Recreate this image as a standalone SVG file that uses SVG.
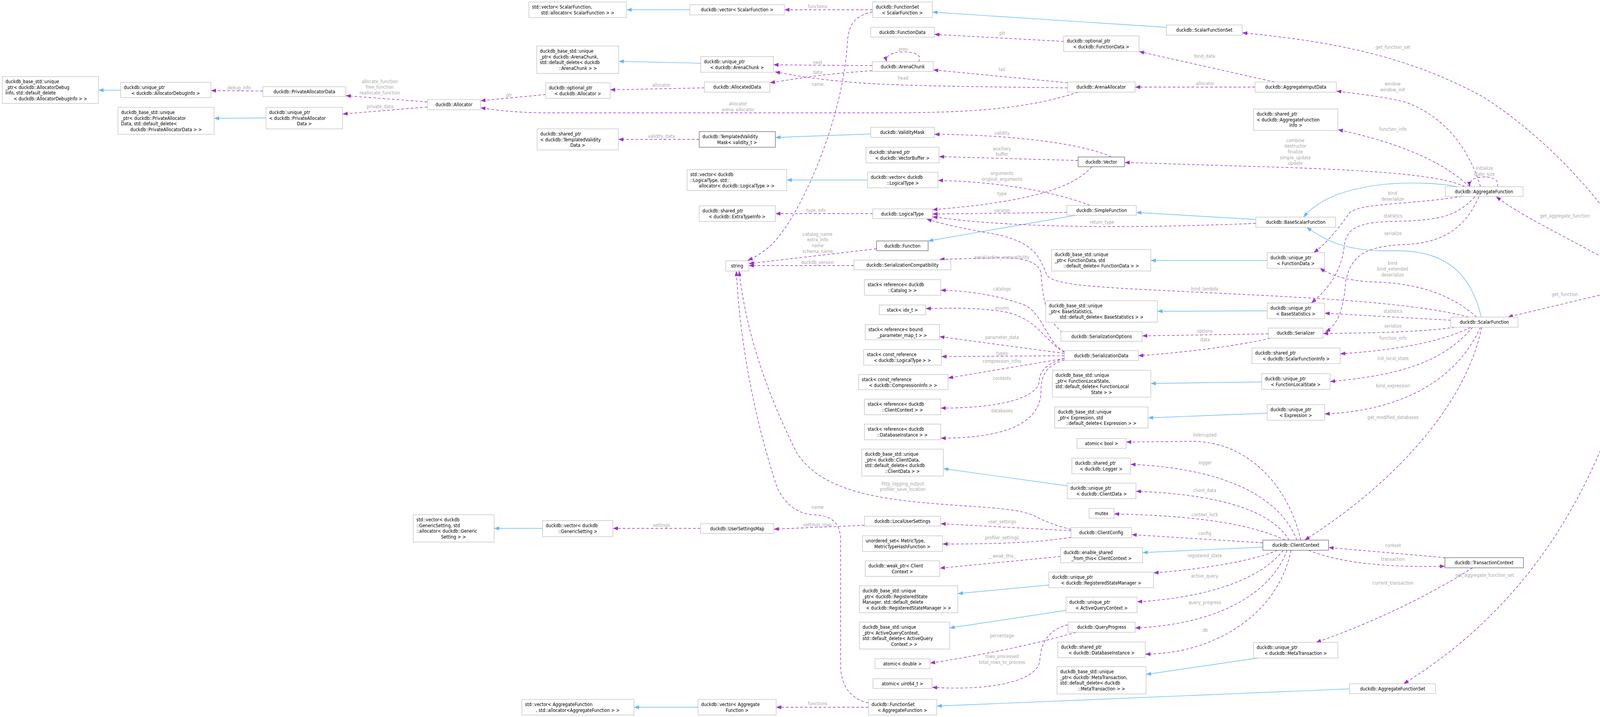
<svg xmlns="http://www.w3.org/2000/svg" width="4345" height="1836" viewBox="0 0 4345 1836">
<style>
rect{fill:#fff;stroke:#bfbfbf;stroke-width:1.3}
.d rect{stroke:#666}
.s rect{fill:#999;stroke:#666}
text{font-family:"DejaVu Sans Condensed","DejaVu Sans",sans-serif;font-stretch:condensed;font-size:12px;fill:#000}
.m{text-anchor:middle}
.l text{fill:#a8a8a8;text-anchor:middle}
.p{fill:none;stroke:#9a32cd;stroke-width:1.4;stroke-dasharray:7,5;marker-end:url(#ap)}
.b{fill:none;stroke:#63b8ff;stroke-width:1.4;marker-end:url(#ab)}
</style>
<defs>
<marker id="ap" markerUnits="userSpaceOnUse" markerWidth="14" markerHeight="10" refX="13" refY="5" orient="auto"><path d="M0,0 L13,5 L0,10 z" fill="#9a32cd"/></marker>
<marker id="ab" markerUnits="userSpaceOnUse" markerWidth="14" markerHeight="10" refX="13" refY="5" orient="auto"><path d="M0,0 L13,5 L0,10 z" fill="#63b8ff"/></marker>
</defs>
<rect x="0" y="0" width="4345" height="1836" style="fill:#fff;stroke:none"/>
<g id="edges">
<path class="b" d="M309,231 L252,231"/>
<path class="b" d="M681,302 L548,303"/>
<path class="b" d="M1766,25 L1604,25"/>
<path class="b" d="M1794,162 L1584,157"/>
<path class="b" d="M2229,343 L1985,352"/>
<path class="b" d="M2221,461 L2014,461"/>
<path class="b" d="M2986,70 L2387,31"/>
<path class="b" d="M2755,551 L2376,617"/>
<path class="b" d="M3215,562 L2909,544"/>
<path class="b" d="M3731,478 C3650,462 3420,455 3337,556"/>
<path class="b" d="M3792,812 C3770,720 3720,640 3570,642 C3450,645 3400,620 3345,582"/>
<path class="b" d="M3244,667 L2946,667"/>
<path class="b" d="M3244,796 L2963,797"/>
<path class="b" d="M3230,978 L2946,982"/>
<path class="b" d="M3244,1058 L2939,1070"/>
<path class="b" d="M2732,1244 L2415,1200"/>
<path class="b" d="M3233,1401 L2925,1415"/>
<path class="b" d="M2685,1498 L2452,1520"/>
<path class="b" d="M2729,1563 L2431,1608"/>
<path class="b" d="M3220,1685 L2934,1727"/>
<path class="b" d="M1389,1353 L1265,1353"/>
<path class="b" d="M1787,1811 L1623,1811"/>
<path class="b" d="M3455,1764 L2398,1808"/>

<path class="p" d="M673,233 L540,232"/>
<path class="p" d="M1094,261 L885,245"/>
<path class="p" d="M1094,274 L877,292"/>
<path class="p" d="M1397,242 L1230,258"/>
<path class="p" d="M1803,225 L1562,230"/>
<path class="p" d="M2760,236 C2600,290 2400,289 2200,289 L1400,289 C1300,288 1260,280 1230,276"/>
<path class="p" d="M2234,25 L2008,25"/>
<path class="p" d="M2234,30 C2190,40 2175,60 2170,100 C2160,300 2060,520 1998,600 C1970,640 1930,660 1914,667"/>
<path class="p" d="M2351,158 C2365,140 2335,132 2312,133 C2285,133 2265,143 2270,158"/>
<path class="p" d="M2233,168 L1980,166"/>
<path class="p" d="M2233,181 C2100,190 2050,200 1971,212"/>
<path class="p" d="M2733,225 C2500,222 2300,220 2200,212 C2100,205 2040,194 1984,184"/>
<path class="p" d="M2733,212 L2389,179"/>
<path class="p" d="M3263,210 L2916,132"/>
<path class="p" d="M3213,223 L2906,223"/>
<path class="p" d="M2723,106 L2392,88"/>
<path class="p" d="M4213,714 C4160,580 4000,380 3800,250 C3600,140 3400,105 3180,84"/>
<path class="p" d="M3790,478 C3760,380 3700,300 3600,262 C3530,245 3470,240 3421,233"/>
<path class="p" d="M3762,478 C3700,420 3600,370 3425,332"/>
<path class="p" d="M3750,478 C3700,455 3600,440 3300,429 C3100,423 2950,418 2879,416"/>
<path class="p" d="M3833,478 C3840,460 3820,453 3800,453 C3775,453 3760,462 3763,478"/>
<path class="p" d="M3743,503 C3600,525 3480,520 3455,545 C3430,580 3400,620 3363,647"/>
<path class="p" d="M3776,504 C3730,550 3700,565 3560,567 C3450,570 3445,600 3440,640 C3430,700 3400,740 3357,776"/>
<path class="p" d="M3786,504 C3760,560 3720,620 3600,626 C3500,630 3460,650 3445,720 C3440,800 3420,835 3393,850"/>
<path class="p" d="M4195,714 C4100,650 3900,560 3830,503"/>
<path class="p" d="M4165,739 L3860,812"/>
<path class="p" d="M4218,739 C4150,1100 4000,1500 3593,1751"/>
<path class="p" d="M3780,812 C3700,740 3600,725 3520,722 C3440,720 3400,700 3379,687"/>
<path class="p" d="M3714,820 L3391,802"/>
<path class="p" d="M3724,838 C3650,850 3500,853 3387,854"/>
<path class="p" d="M3765,838 C3700,870 3600,895 3431,906"/>
<path class="p" d="M3770,838 C3700,920 3600,960 3405,977"/>
<path class="p" d="M3790,838 C3740,950 3620,1050 3391,1060"/>
<path class="p" d="M3793,838 C3750,1050 3550,1250 3340,1383"/>
<path class="p" d="M3760,812 C3600,770 3300,760 3000,745 C2800,735 2700,730 2680,705 C2660,650 2640,620 2550,600 C2460,585 2400,570 2372,561"/>
<path class="p" d="M2845,402 C2780,370 2600,345 2392,344"/>
<path class="p" d="M2760,411 L2404,401"/>
<path class="p" d="M2795,427 C2740,490 2600,520 2387,537"/>
<path class="p" d="M2790,526 C2700,490 2550,465 2401,462"/>
<path class="p" d="M2731,544 L2387,548"/>
<path class="p" d="M3215,572 C2900,585 2600,585 2387,555"/>
<path class="p" d="M2234,547 L1985,547"/>
<path class="p" d="M2244,637 L1917,675"/>
<path class="p" d="M2186,680 L1917,680"/>
<path class="p" d="M2720,851 C2680,820 2670,770 2665,700 C2660,670 2620,660 2560,660 L2405,664"/>
<path class="p" d="M2725,900 C2680,880 2670,800 2620,780 C2550,755 2480,745 2408,743"/>
<path class="p" d="M2725,902 C2680,880 2660,820 2580,800 C2500,785 2420,790 2370,790"/>
<path class="p" d="M2725,905 L2405,862"/>
<path class="p" d="M2725,911 L2410,913"/>
<path class="p" d="M2725,918 L2427,968"/>
<path class="p" d="M2725,918 C2680,930 2660,950 2660,980 C2650,1020 2560,1045 2408,1045"/>
<path class="p" d="M2725,922 C2680,935 2665,960 2665,1000 C2665,1090 2560,1122 2408,1122"/>
<path class="p" d="M3247,855 L2924,860"/>
<path class="p" d="M3252,866 C3150,890 3000,905 2914,911"/>
<path class="p" d="M3330,1383 C3300,1250 3200,1130 3050,1130 L2883,1132"/>
<path class="p" d="M3320,1383 C3280,1280 3150,1200 2894,1189"/>
<path class="p" d="M3300,1383 C3250,1300 3100,1265 2908,1258"/>
<path class="p" d="M3290,1383 C3200,1340 3050,1320 2852,1316"/>
<path class="p" d="M3233,1390 L2897,1369"/>
<path class="p" d="M3270,1409 C3200,1440 3050,1460 2953,1467"/>
<path class="p" d="M3285,1409 C3230,1480 3100,1530 2911,1541"/>
<path class="p" d="M3295,1409 C3250,1530 3100,1600 2906,1608"/>
<path class="p" d="M3305,1409 C3270,1580 3100,1675 2932,1675"/>
<path class="p" d="M3350,1409 C3450,1450 3600,1452 3699,1450"/>
<path class="p" d="M3700,1428 L3401,1402"/>
<path class="p" d="M3770,1454 C3650,1530 3500,1600 3369,1645"/>
<path class="p" d="M2742,1359 L2408,1341"/>
<path class="p" d="M2742,1376 C2650,1390 2550,1393 2413,1393"/>
<path class="p" d="M2742,1356 C2700,1345 2675,1335 2650,1322 C2600,1295 2450,1300 2300,1280 C2150,1260 2080,1220 2040,1160 C1960,1000 1910,850 1892,694"/>
<path class="p" d="M2223,1800 C2180,1790 2152,1760 2152,1700 L2152,1380 C2150,1330 2120,1320 2080,1318 C2040,1315 2010,1290 1990,1250 C1940,1100 1895,900 1885,694"/>
<path class="p" d="M2715,1425 L2406,1455"/>
<path class="p" d="M2213,1345 L1981,1355"/>
<path class="p" d="M1793,1353 L1569,1353"/>
<path class="p" d="M2223,1811 L1987,1811"/>
<path class="p" d="M2755,1619 C2650,1650 2500,1680 2381,1698"/>
<path class="p" d="M2734,1600 C2690,1610 2665,1640 2662,1690 C2660,1740 2550,1770 2386,1760"/>
<path class="p" d="M1790,357 L1583,357"/>
<g class="l">
<text x="612" y="229">debug_info</text>
<text x="972" y="213">allocate_function</text><text x="972" y="227">free_function</text><text x="972" y="242">reallocate_function</text>
<text x="973" y="277">private_data</text>
<text x="1303" y="248">ptr</text>
<text x="1693" y="222">allocator</text>
<text x="1889" y="270">allocator</text><text x="1889" y="285">arena_allocator</text>
<text x="2093" y="21">functions</text>
<text x="2093" y="164">next</text>
<text x="2093" y="189">data</text>
<text x="2093" y="220">name</text>
<text x="2312" y="130">prev</text>
<text x="2565" y="182">tail</text>
<text x="2312" y="204">head</text>
<text x="2566" y="89">ptr</text>
<text x="3084" y="148">bind_data</text>
<text x="3085" y="218">allocator</text>
<text x="1693" y="353">validity_data</text>
<text x="3566" y="125">get_function_set</text>
<text x="3565" y="219">window</text><text x="3565" y="234">window_init</text>
<text x="3566" y="335">function_info</text>
<text x="3316" y="364">combine</text><text x="3316" y="378">destructor</text><text x="3316" y="393">finalize</text><text x="3316" y="408">simple_update</text><text x="3316" y="422">update</text>
<text x="3800" y="435">initialize</text><text x="3800" y="450">state_size</text>
<text x="3565" y="499">bind</text><text x="3565" y="514">deserialize</text>
<text x="3566" y="557">statistics</text>
<text x="3566" y="602">serialize</text>
<text x="4006" y="557">get_aggregate_function</text>
<text x="4006" y="758">get_function</text>
<text x="3565" y="678">bind</text><text x="3565" y="693">bind_extended</text><text x="3565" y="708">deserialize</text>
<text x="3566" y="801">statistics</text>
<text x="3566" y="839">serialize</text>
<text x="3566" y="870">function_info</text>
<text x="3566" y="922">init_local_state</text>
<text x="3566" y="992">bind_expression</text>
<text x="3566" y="1073">get_modified_databases</text>
<text x="3084" y="744">bind_lambda</text>
<text x="2565" y="345">validity</text>
<text x="2565" y="385">auxiliary</text><text x="2565" y="399">buffer</text>
<text x="2565" y="448">arguments</text><text x="2565" y="463">original_arguments</text>
<text x="2565" y="500">type</text>
<text x="2565" y="543">varargs</text>
<text x="2821" y="573">return_type</text>
<text x="2089" y="543">type_info</text>
<text x="2093" y="604">catalog_name</text><text x="2093" y="618">extra_info</text><text x="2093" y="633">name</text><text x="2093" y="648">schema_name</text>
<text x="2093" y="676">duckdb_version</text>
<text x="2565" y="663">serialization_compatibility</text>
<text x="2565" y="744">catalogs</text>
<text x="2565" y="793">enums</text>
<text x="2565" y="868">parameter_data</text>
<text x="2565" y="909">types</text>
<text x="2565" y="929">compression_infos</text>
<text x="2565" y="973">contexts</text>
<text x="2565" y="1056">databases</text>
<text x="3084" y="852">options</text>
<text x="3085" y="874">data</text>
<text x="3084" y="1118">interrupted</text>
<text x="3085" y="1189">logger</text>
<text x="3084" y="1260">client_data</text>
<text x="3084" y="1322">context_lock</text>
<text x="3084" y="1370">config</text>
<text x="3084" y="1427">registered_state</text>
<text x="3084" y="1479">active_query</text>
<text x="3084" y="1547">query_progress</text>
<text x="3085" y="1618">db</text>
<text x="3566" y="1436">transaction</text>
<text x="3566" y="1401">context</text>
<text x="3566" y="1497">current_transaction</text>
<text x="3801" y="1477">get_aggregate_function_set</text>
<text x="2565" y="1340">user_settings</text>
<text x="2565" y="1381">profiler_settings</text>
<text x="2311" y="1243">http_logging_output</text><text x="2311" y="1257">profiler_save_location</text>
<text x="2093" y="1303">name</text>
<text x="2565" y="1428">__weak_this_</text>
<text x="2093" y="1348">settings_map</text>
<text x="1693" y="1349">settings</text>
<text x="2093" y="1806">functions</text>
<text x="2565" y="1632">percentage</text>
<text x="2565" y="1685">rows_processed</text><text x="2565" y="1700">total_rows_to_process</text>
</g>
</g>

<g id="n1"><rect x="6" y="196" width="246" height="69"/><text><tspan x="14" y="213">duckdb_base_std::unique</tspan><tspan x="14" y="227.5">_ptr&lt; duckdb::AllocatorDebug</tspan><tspan x="14" y="242">Info, std::default_delete</tspan><tspan class="m" x="129" y="256.5">&lt; duckdb::AllocatorDebugInfo &gt; &gt;</tspan></text></g>
<g id="n2"><rect x="309" y="211" width="231" height="39"/><text><tspan x="317" y="228">duckdb::unique_ptr</tspan><tspan class="m" x="424" y="242.5">&lt; duckdb::AllocatorDebugInfo &gt;</tspan></text></g>
<g id="n3"><rect x="673" y="222" width="212" height="25"/><text class="m" x="779" y="239">duckdb::PrivateAllocatorData</text></g>
<g id="n4"><rect x="302" y="275" width="246" height="69"/><text><tspan x="310" y="292">duckdb_base_std::unique</tspan><tspan x="310" y="306.5">_ptr&lt; duckdb::PrivateAllocator</tspan><tspan x="310" y="321">Data, std::default_delete&lt;</tspan><tspan class="m" x="425" y="335.5">duckdb::PrivateAllocatorData &gt; &gt;</tspan></text></g>
<g id="n5"><rect x="681" y="275" width="196" height="55"/><text><tspan x="689" y="292">duckdb::unique_ptr</tspan><tspan x="689" y="306.5">&lt; duckdb::PrivateAllocator</tspan><tspan class="m" x="779" y="321">Data &gt;</tspan></text></g>
<g id="n6"><rect x="1094" y="255" width="136" height="26"/><text class="m" x="1162" y="272">duckdb::Allocator</text></g>
<g id="n7"><rect x="1354" y="5" width="250" height="40"/><text><tspan x="1362" y="22">std::vector&lt; ScalarFunction,</tspan><tspan class="m" x="1479" y="36.5">std::allocator&lt; ScalarFunction &gt; &gt;</tspan></text></g>
<g id="n8"><rect x="1766" y="12" width="242" height="26"/><text class="m" x="1887" y="29">duckdb::vector&lt; ScalarFunction &gt;</text></g>
<g id="n9"><rect x="1374" y="118" width="210" height="70"/><text><tspan x="1382" y="135">duckdb_base_std::unique</tspan><tspan x="1382" y="149.5">_ptr&lt; duckdb::ArenaChunk,</tspan><tspan x="1382" y="164">std::default_delete&lt; duckdb</tspan><tspan class="m" x="1479" y="178.5">::ArenaChunk &gt; &gt;</tspan></text></g>
<g id="n10"><rect x="1794" y="145" width="186" height="40"/><text><tspan x="1802" y="162">duckdb::unique_ptr</tspan><tspan class="m" x="1887" y="176.5">&lt; duckdb::ArenaChunk &gt;</tspan></text></g>
<g id="n11"><rect x="1397" y="212" width="165" height="40"/><text><tspan x="1405" y="229">duckdb::optional_ptr</tspan><tspan class="m" x="1479" y="243.5">&lt; duckdb::Allocator &gt;</tspan></text></g>
<g id="n12"><rect x="1803" y="210" width="168" height="26"/><text class="m" x="1887" y="227">duckdb::AllocatedData</text></g>
<g id="n13"><rect x="1375" y="330" width="208" height="54"/><text><tspan x="1383" y="347">duckdb::shared_ptr</tspan><tspan x="1383" y="361.5">&lt; duckdb::TemplatedValidity</tspan><tspan class="m" x="1479" y="376">Data &gt;</tspan></text></g>
<g id="n14" class="d"><rect x="1790" y="337" width="195" height="40"/><text><tspan x="1798" y="354">duckdb::TemplatedValidity</tspan><tspan class="m" x="1887" y="368.5">Mask&lt; validity_t &gt;</tspan></text></g>
<g id="n15"><rect x="1759" y="434" width="255" height="54"/><text><tspan x="1767" y="451">std::vector&lt; duckdb</tspan><tspan x="1767" y="465.5">::LogicalType, std::</tspan><tspan class="m" x="1886" y="480">allocator&lt; duckdb::LogicalType &gt; &gt;</tspan></text></g>
<g id="n16"><rect x="1790" y="527" width="195" height="40"/><text><tspan x="1798" y="544">duckdb::shared_ptr</tspan><tspan class="m" x="1887" y="558.5">&lt; duckdb::ExtraTypeInfo &gt;</tspan></text></g>
<g id="n17"><rect x="1858" y="668" width="59" height="26"/><text class="m" x="1887" y="685">string</text></g>
<g id="n18"><rect x="2234" y="5" width="153" height="40"/><text><tspan x="2242" y="22">duckdb::FunctionSet</tspan><tspan class="m" x="2310" y="36.5">&lt; ScalarFunction &gt;</tspan></text></g>
<g id="n19"><rect x="2229" y="70" width="163" height="25"/><text class="m" x="2310" y="87">duckdb::FunctionData</text></g>
<g id="n20"><rect x="2233" y="158" width="156" height="25"/><text class="m" x="2311" y="175">duckdb::ArenaChunk</text></g>
<g id="n21"><rect x="2229" y="326" width="163" height="26"/><text class="m" x="2310" y="343">duckdb::ValidityMask</text></g>
<g id="n22"><rect x="2217" y="377" width="187" height="40"/><text><tspan x="2225" y="394">duckdb::shared_ptr</tspan><tspan class="m" x="2310" y="408.5">&lt; duckdb::VectorBuffer &gt;</tspan></text></g>
<g id="n23"><rect x="2221" y="441" width="180" height="40"/><text><tspan x="2229" y="458">duckdb::vector&lt; duckdb</tspan><tspan class="m" x="2311" y="472.5">::LogicalType &gt;</tspan></text></g>
<g id="n24"><rect x="2234" y="535" width="153" height="25"/><text class="m" x="2310" y="552">duckdb::LogicalType</text></g>
<g id="n25" class="d"><rect x="2244" y="617" width="132" height="25"/><text class="m" x="2310" y="634">duckdb::Function</text></g>
<g id="n26"><rect x="2186" y="666" width="248" height="25"/><text class="m" x="2310" y="683">duckdb::SerializationCompatibility</text></g>
<g id="n27"><rect x="2213" y="716" width="195" height="40"/><text><tspan x="2221" y="733">stack&lt; reference&lt; duckdb</tspan><tspan class="m" x="2310" y="747.5">::Catalog &gt; &gt;</tspan></text></g>
<g id="n28"><rect x="2251" y="781" width="119" height="25"/><text class="m" x="2310" y="798">stack&lt; idx_t &gt;</text></g>
<g id="n29"><rect x="2215" y="831" width="190" height="39"/><text><tspan x="2223" y="848">stack&lt; reference&lt; bound</tspan><tspan class="m" x="2310" y="862.5">_parameter_map_t &gt; &gt;</tspan></text></g>
<g id="n30"><rect x="2211" y="895" width="199" height="40"/><text><tspan x="2219" y="912">stack&lt; const_reference</tspan><tspan class="m" x="2310" y="926.5">&lt; duckdb::LogicalType &gt; &gt;</tspan></text></g>
<g id="n31"><rect x="2198" y="959" width="229" height="39"/><text><tspan x="2206" y="976">stack&lt; const_reference</tspan><tspan class="m" x="2312" y="990.5">&lt; duckdb::CompressionInfo &gt; &gt;</tspan></text></g>
<g id="n32"><rect x="2213" y="1022" width="195" height="40"/><text><tspan x="2221" y="1039">stack&lt; reference&lt; duckdb</tspan><tspan class="m" x="2310" y="1053.5">::ClientContext &gt; &gt;</tspan></text></g>
<g id="n33"><rect x="2213" y="1086" width="195" height="40"/><text><tspan x="2221" y="1103">stack&lt; reference&lt; duckdb</tspan><tspan class="m" x="2310" y="1117.5">::DatabaseInstance &gt; &gt;</tspan></text></g>
<g id="n34"><rect x="2206" y="1150" width="209" height="69"/><text><tspan x="2214" y="1167">duckdb_base_std::unique</tspan><tspan x="2214" y="1181.5">_ptr&lt; duckdb::ClientData,</tspan><tspan x="2214" y="1196">std::default_delete&lt; duckdb</tspan><tspan class="m" x="2310" y="1210.5">::ClientData &gt; &gt;</tspan></text></g>
<g id="n35"><rect x="2213" y="1322" width="195" height="25"/><text class="m" x="2310" y="1339">duckdb::LocalUserSettings</text></g>
<g id="n36"><rect x="2208" y="1372" width="205" height="40"/><text><tspan x="2216" y="1389">unordered_set&lt; MetricType,</tspan><tspan class="m" x="2310" y="1403.5">MetricTypeHashFunction &gt;</tspan></text></g>
<g id="n37"><rect x="2215" y="1436" width="191" height="40"/><text><tspan x="2223" y="1453">duckdb::weak_ptr&lt; Client</tspan><tspan class="m" x="2310" y="1467.5">Context &gt;</tspan></text></g>
<g id="n38"><rect x="2200" y="1500" width="252" height="69"/><text><tspan x="2208" y="1517">duckdb_base_std::unique</tspan><tspan x="2208" y="1531.5">_ptr&lt; duckdb::RegisteredState</tspan><tspan x="2208" y="1546">Manager, std::default_delete</tspan><tspan class="m" x="2326" y="1560.5">&lt; duckdb::RegisteredStateManager &gt; &gt;</tspan></text></g>
<g id="n39"><rect x="2200" y="1593" width="231" height="69"/><text><tspan x="2208" y="1610">duckdb_base_std::unique</tspan><tspan x="2208" y="1624.5">_ptr&lt; ActiveQueryContext,</tspan><tspan x="2208" y="1639">std::default_delete&lt; ActiveQuery</tspan><tspan class="m" x="2315" y="1653.5">Context &gt; &gt;</tspan></text></g>
<g id="n40"><rect x="2240" y="1687" width="141" height="25"/><text class="m" x="2310" y="1704">atomic&lt; double &gt;</text></g>
<g id="n41"><rect x="2235" y="1738" width="151" height="25"/><text class="m" x="2310" y="1755">atomic&lt; uint64_t &gt;</text></g>
<g id="n42"><rect x="2223" y="1791" width="175" height="40"/><text><tspan x="2231" y="1808">duckdb::FunctionSet</tspan><tspan class="m" x="2310" y="1822.5">&lt; AggregateFunction &gt;</tspan></text></g>
<g id="n43"><rect x="2723" y="92" width="193" height="40"/><text><tspan x="2731" y="109">duckdb::optional_ptr</tspan><tspan class="m" x="2819" y="123.5">&lt; duckdb::FunctionData &gt;</tspan></text></g>
<g id="n44"><rect x="2733" y="210" width="173" height="26"/><text class="m" x="2819" y="227">duckdb::ArenaAllocator</text></g>
<g id="n45" class="d"><rect x="2760" y="402" width="119" height="25"/><text class="m" x="2819" y="419">duckdb::Vector</text></g>
<g id="n46"><rect x="2731" y="526" width="178" height="25"/><text class="m" x="2820" y="543">duckdb::SimpleFunction</text></g>
<g id="n47"><rect x="2692" y="639" width="254" height="55"/><text><tspan x="2700" y="656">duckdb_base_std::unique</tspan><tspan x="2700" y="670.5">_ptr&lt; FunctionData, std</tspan><tspan class="m" x="2819" y="685">::default_delete&lt; FunctionData &gt; &gt;</tspan></text></g>
<g id="n48"><rect x="2677" y="770" width="286" height="55"/><text><tspan x="2685" y="787">duckdb_base_std::unique</tspan><tspan x="2685" y="801.5">_ptr&lt; BaseStatistics,</tspan><tspan class="m" x="2820" y="816">std::default_delete&lt; BaseStatistics &gt; &gt;</tspan></text></g>
<g id="n49"><rect x="2716" y="849" width="208" height="25"/><text class="m" x="2820" y="866">duckdb::SerializationOptions</text></g>
<g id="n50"><rect x="2725" y="898" width="189" height="25"/><text class="m" x="2819" y="915">duckdb::SerializationData</text></g>
<g id="n51"><rect x="2694" y="948" width="252" height="69"/><text><tspan x="2702" y="965">duckdb_base_std::unique</tspan><tspan x="2702" y="979.5">_ptr&lt; FunctionLocalState,</tspan><tspan x="2702" y="994">std::default_delete&lt; FunctionLocal</tspan><tspan class="m" x="2820" y="1008.5">State &gt; &gt;</tspan></text></g>
<g id="n52"><rect x="2700" y="1042" width="239" height="54"/><text><tspan x="2708" y="1059">duckdb_base_std::unique</tspan><tspan x="2708" y="1073.5">_ptr&lt; Expression, std</tspan><tspan class="m" x="2819" y="1088">::default_delete&lt; Expression &gt; &gt;</tspan></text></g>
<g id="n53"><rect x="2757" y="1123" width="126" height="25"/><text class="m" x="2820" y="1140">atomic&lt; bool &gt;</text></g>
<g id="n54"><rect x="2744" y="1173" width="150" height="40"/><text><tspan x="2752" y="1190">duckdb::shared_ptr</tspan><tspan class="m" x="2819" y="1204.5">&lt; duckdb::Logger &gt;</tspan></text></g>
<g id="n55"><rect x="2732" y="1237" width="176" height="40"/><text><tspan x="2740" y="1254">duckdb::unique_ptr</tspan><tspan class="m" x="2820" y="1268.5">&lt; duckdb::ClientData &gt;</tspan></text></g>
<g id="n56"><rect x="2788" y="1302" width="64" height="25"/><text class="m" x="2820" y="1319">mutex</text></g>
<g id="n57"><rect x="2742" y="1351" width="155" height="26"/><text class="m" x="2819" y="1368">duckdb::ClientConfig</text></g>
<g id="n58"><rect x="2715" y="1402" width="210" height="39"/><text><tspan x="2723" y="1419">duckdb::enable_shared</tspan><tspan class="m" x="2820" y="1433.5">_from_this&lt; ClientContext &gt;</tspan></text></g>
<g id="n59"><rect x="2685" y="1465" width="268" height="40"/><text><tspan x="2693" y="1482">duckdb::unique_ptr</tspan><tspan class="m" x="2819" y="1496.5">&lt; duckdb::RegisteredStateManager &gt;</tspan></text></g>
<g id="n60"><rect x="2729" y="1529" width="182" height="40"/><text><tspan x="2737" y="1546">duckdb::unique_ptr</tspan><tspan class="m" x="2820" y="1560.5">&lt; ActiveQueryContext &gt;</tspan></text></g>
<g id="n61"><rect x="2734" y="1593" width="172" height="26"/><text class="m" x="2820" y="1610">duckdb::QueryProgress</text></g>
<g id="n62"><rect x="2708" y="1644" width="224" height="40"/><text><tspan x="2716" y="1661">duckdb::shared_ptr</tspan><tspan class="m" x="2820" y="1675.5">&lt; duckdb::DatabaseInstance &gt;</tspan></text></g>
<g id="n63"><rect x="2706" y="1707" width="228" height="70"/><text><tspan x="2714" y="1724">duckdb_base_std::unique</tspan><tspan x="2714" y="1738.5">_ptr&lt; duckdb::MetaTransaction,</tspan><tspan x="2714" y="1753">std::default_delete&lt; duckdb</tspan><tspan class="m" x="2820" y="1767.5">::MetaTransaction &gt; &gt;</tspan></text></g>
<g id="n64"><rect x="2986" y="64" width="194" height="26"/><text class="m" x="3083" y="81">duckdb::ScalarFunctionSet</text></g>
<g id="n65"><rect x="3213" y="210" width="208" height="26"/><text class="m" x="3317" y="227">duckdb::AggregateInputData</text></g>
<g id="n66"><rect x="3209" y="279" width="216" height="55"/><text><tspan x="3217" y="296">duckdb::shared_ptr</tspan><tspan x="3217" y="310.5">&lt; duckdb::AggregateFunction</tspan><tspan class="m" x="3317" y="325">Info &gt;</tspan></text></g>
<g id="n67"><rect x="3215" y="556" width="204" height="26"/><text class="m" x="3317" y="573">duckdb::BaseScalarFunction</text></g>
<g id="n68"><rect x="3244" y="647" width="147" height="40"/><text><tspan x="3252" y="664">duckdb::unique_ptr</tspan><tspan class="m" x="3317" y="678.5">&lt; FunctionData &gt;</tspan></text></g>
<g id="n69"><rect x="3244" y="776" width="147" height="40"/><text><tspan x="3252" y="793">duckdb::unique_ptr</tspan><tspan class="m" x="3317" y="807.5">&lt; BaseStatistics &gt;</tspan></text></g>
<g id="n70"><rect x="3247" y="840" width="140" height="26"/><text class="m" x="3317" y="857">duckdb::Serializer</text></g>
<g id="n71"><rect x="3205" y="891" width="226" height="40"/><text><tspan x="3213" y="908">duckdb::shared_ptr</tspan><tspan class="m" x="3318" y="922.5">&lt; duckdb::ScalarFunctionInfo &gt;</tspan></text></g>
<g id="n72"><rect x="3230" y="957" width="175" height="40"/><text><tspan x="3238" y="974">duckdb::unique_ptr</tspan><tspan class="m" x="3317" y="988.5">&lt; FunctionLocalState &gt;</tspan></text></g>
<g id="n73"><rect x="3244" y="1036" width="147" height="40"/><text><tspan x="3252" y="1053">duckdb::unique_ptr</tspan><tspan class="m" x="3317" y="1067.5">&lt; Expression &gt;</tspan></text></g>
<g id="n74" class="d"><rect x="3233" y="1383" width="168" height="26"/><text class="m" x="3317" y="1400">duckdb::ClientContext</text></g>
<g id="n75"><rect x="3209" y="1645" width="216" height="40"/><text><tspan x="3217" y="1662">duckdb::unique_ptr</tspan><tspan class="m" x="3317" y="1676.5">&lt; duckdb::MetaTransaction &gt;</tspan></text></g>
<g id="n76"><rect x="3700" y="478" width="199" height="25"/><text class="m" x="3799" y="495">duckdb::AggregateFunction</text></g>
<g id="n77"><rect x="3714" y="812" width="172" height="26"/><text class="m" x="3800" y="829">duckdb::ScalarFunction</text></g>
<g id="n78" class="d"><rect x="3699" y="1428" width="201" height="26"/><text class="m" x="3799" y="1445">duckdb::TransactionContext</text></g>
<g id="n79"><rect x="3455" y="1751" width="220" height="25"/><text class="m" x="3565" y="1768">duckdb::AggregateFunctionSet</text></g>
<g id="n80" class="s"><rect x="4108" y="714" width="232" height="25"/><text class="m" x="4224" y="731" textLength="208" lengthAdjust="spacingAndGlyphs">duckdb::StaticFunctionDefinition</text></g>
<g id="n81"><rect x="1058" y="1318" width="207" height="70"/><text><tspan x="1066" y="1335">std::vector&lt; duckdb</tspan><tspan x="1066" y="1349.5">::GenericSetting, std</tspan><tspan x="1066" y="1364">::allocator&lt; duckdb::Generic</tspan><tspan class="m" x="1161" y="1378.5">Setting &gt; &gt;</tspan></text></g>
<g id="n82"><rect x="1389" y="1333" width="180" height="41"/><text><tspan x="1397" y="1350">duckdb::vector&lt; duckdb</tspan><tspan class="m" x="1479" y="1364.5">::GenericSetting &gt;</tspan></text></g>
<g id="n83"><rect x="1793" y="1341" width="188" height="25"/><text class="m" x="1887" y="1358">duckdb::UserSettingsMap</text></g>
<g id="n84"><rect x="1336" y="1791" width="287" height="40"/><text><tspan x="1344" y="1808">std::vector&lt; AggregateFunction</tspan><tspan class="m" x="1479" y="1822.5">, std::allocator&lt;AggregateFunction &gt;  &gt;</tspan></text></g>
<g id="n85"><rect x="1787" y="1791" width="200" height="40"/><text><tspan x="1795" y="1808">duckdb::vector&lt; Aggregate</tspan><tspan class="m" x="1887" y="1822.5">Function &gt;</tspan></text></g>
</svg>
